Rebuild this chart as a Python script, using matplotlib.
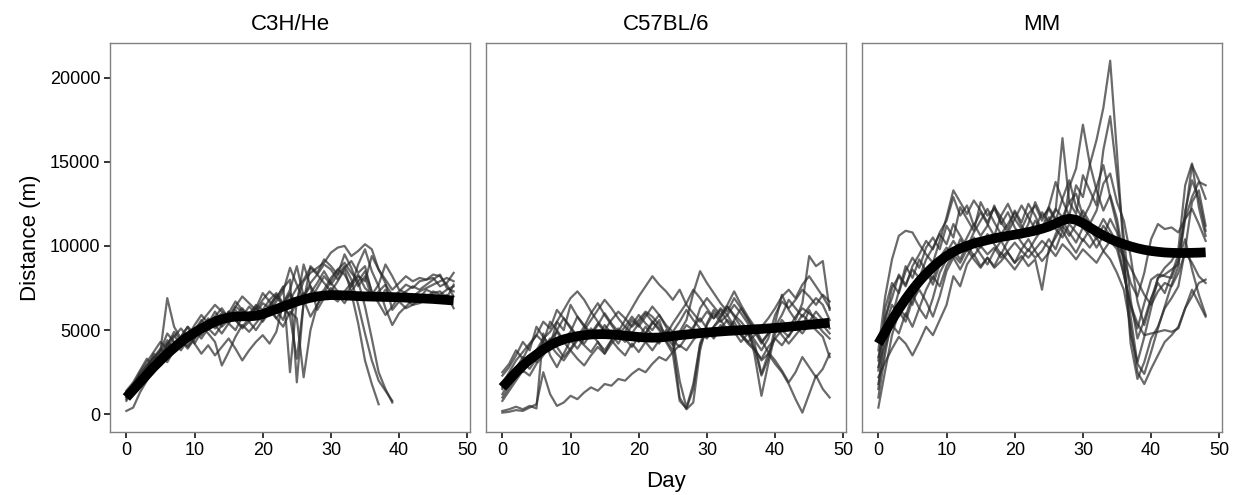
import matplotlib
matplotlib.use("Agg")
import matplotlib.pyplot as plt
import numpy as np

plt.rcParams["font.family"] = ["Liberation Sans", "DejaVu Sans"]

# ---------------------------------------------------------------------------
# Daily distance per mouse (m).
# Each list starts at day 0; shorter lists stop early.
# ---------------------------------------------------------------------------
STRAINS = ["C3H/He", "C57BL/6", "MM"]

c3h_mice = [
    [1200, 1800, 2400, 2900, 3300, 3800, 6900, 5200, 4500, 4100, 4800, 5300, 5000, 5600, 6000, 5400, 5900, 6300, 5800, 6500,
     6200, 6800, 7200, 6600, 7400, 8800, 7000, 7800, 8300, 8900, 8600, 8000, 8700, 9100, 8400, 8800, 7200, 6800, 7400, 6900,
     7300, 7700, 7500, 7900, 8000, 8100, 7600, 7800, 8400],
    [200, 400, 1300, 2000, 2700, 3100, 3500, 4300, 4000, 4600, 5100, 4700, 5400, 5800, 5200, 5600, 6400, 6100, 5500, 6000,
     6600, 6300, 6900, 7600, 2500, 6800, 7900, 8400, 8700, 9000, 9600, 9900, 10000, 9400, 9700, 10100, 9800, 8600, 8000, 7400,
     7800, 8200, 7900, 8100, 8000, 8300, 8200, 7700, 7000],
    [1100, 1500, 2100, 2700, 3600, 3200, 4100, 4900, 4400, 3900, 4500, 5200, 4800, 4300, 2900, 3700, 4600, 5300, 4900, 5400,
     5900, 6300, 5700, 5200, 6100, 5700, 2200, 5000, 6500, 7200, 7900, 8600, 8300, 7600, 8900, 9800, 8500, 7600, 6300, 5300,
     6000, 6400, 6800, 7000, 6900, 7300, 7100, 7400, 7600],
    [1400, 1900, 2600, 3300, 2800, 3700, 4400, 3800, 4600, 5200, 4800, 5500, 6000, 6500, 6100, 5800, 6400, 7000, 6600, 6200,
     6800, 7300, 6900, 7500, 8000, 1900, 6700, 8800, 8400, 9200, 8800, 8300, 9500, 8700, 7600, 8200, 6900, 7300, 7700, 7100,
     7000, 6800, 6500, 6600, 6800, 7000, 6900, 7100, 6300],
    [900, 1400, 2000, 2300, 3000, 3500, 3100, 3800, 4300, 4700, 4200, 4900, 5600, 5100, 5500, 6100, 5600, 5200, 5700, 6300,
     5900, 6400, 7100, 6500, 5800, 3300, 6600, 7200, 7800, 8500, 7800, 7300, 7000, 7600, 8200, 7900, 9400, 8600, 7800, 6200,
     6700, 6300, 6500, 6900, 7400, 7200, 7300, 6900, 7700],
    [1000, 1600, 2300, 2900, 3400, 3000, 4200, 4700, 4100, 4500, 5000, 5600, 5200, 5800, 6300, 5700, 6200, 5600, 6000, 6400,
     5800, 6500, 7000, 6400, 7100, 6600, 8900, 7600, 7000, 7400, 8100, 8600, 9000, 8400, 7900, 6400, 4500, 2500, 1500, 700],
    [1300, 1700, 2500, 3100, 3700, 4300, 3900, 4600, 5100, 4600, 5300, 5900, 5400, 6100, 5500, 6000, 6700, 6200, 5800, 6300,
     7200, 6700, 6200, 5600, 6800, 7500, 8000, 8700, 8300, 7800, 7300, 7900, 8600, 7200, 5400, 3200, 1800, 600],
    [800, 1400, 1900, 2600, 3200, 3800, 4800, 4300, 3800, 4400, 5000, 4500, 5100, 4700, 5300, 6100, 5600, 5100, 5500, 5000,
     5600, 6200, 5700, 6300, 5900, 6600, 7200, 6800, 7500, 8200, 7700, 8300, 8800, 8000, 6500, 4800, 3200, 2000, 1400, 800],
    [1200, 1600, 2200, 2800, 3400, 3900, 3500, 4000, 4600, 5200, 4200, 3600, 4100, 3500, 4000, 4500, 3900, 3200, 3800, 4300,
     4700, 4200, 4900, 6600, 7200, 6500, 7000, 7600, 6200, 6900, 7500, 7100, 6600, 7300, 7900, 8500, 7300, 6600, 5900, 6400,
     7000, 7300, 7600, 7400, 7700, 8000, 8300, 7500, 7300],
    [1000, 1500, 2100, 2400, 2900, 3500, 4200, 3700, 4300, 4000, 4500, 5100, 5700, 5300, 4800, 5400, 5000, 5800, 6400, 6000,
     5500, 6100, 6700, 7300, 8700, 7700, 6800, 5800, 6500, 7200, 7000, 6700, 7300, 7800, 8300, 7500, 7100, 7700, 8900, 8200,
     7400, 7200, 7000, 7300, 7500, 7700, 7900, 8100, 7900],
]

c57_mice = [
    [200, 300, 450, 300, 500, 350, 4800, 3500, 2800, 3600, 4400, 3900, 4500, 5100, 4600, 5300, 4800, 4200, 4900, 5600,
     5200, 5800, 6400, 5900, 5200, 4500, 2000, 400, 1800, 4200, 5300, 6000, 5500, 5900, 6500, 6000, 5400, 3500, 1100, 3000,
     4800, 5600, 5100, 5800, 6300, 6000, 5700, 5300, 4800],
    [100, 150, 250, 200, 400, 600, 2500, 1200, 500, 700, 1100, 900, 1300, 1600, 1400, 1800, 1700, 2100, 2000, 2400,
     2700, 2500, 3000, 3400, 3200, 3700, 4100, 3800, 4400, 4900, 4500, 5200, 5600, 5000, 5500, 4700, 4300, 3900, 3200, 3600,
     3000, 2500, 1800, 900, 100, 1200, 2300, 1500, 1000],
    [1800, 2500, 3200, 3700, 4200, 4700, 4300, 5500, 5000, 4400, 4900, 5800, 5200, 4700, 5300, 6000, 5400, 4900, 5600, 6300,
     7000, 7600, 8200, 7700, 7300, 6800, 7400, 6500, 6000, 5500, 6100, 5700, 6300, 5900, 5200, 4800, 4300, 4700, 5200, 5700,
     6300, 7000, 7400, 6900, 7700, 8200, 7600, 7000, 6300],
    [2300, 2800, 3500, 4300, 3800, 5200, 4600, 4100, 5500, 5000, 6500, 5800, 5300, 4800, 5400, 4900, 4500, 5100, 4600, 5300,
     5900, 5400, 5000, 5600, 4400, 3800, 4900, 5600, 7200, 8500, 7800, 7200, 6600, 6100, 6900, 6300, 5600, 4900, 4200, 4800,
     5400, 7100, 6200, 5600, 6600, 9400, 8800, 9100, 6200],
    [1500, 2100, 2700, 3400, 3000, 3700, 4300, 3800, 5000, 5700, 5200, 4600, 4200, 4800, 4300, 3600, 4400, 5000, 4500, 4000,
     4600, 5200, 4700, 4200, 5000, 4300, 1000, 300, 700, 3800, 5400, 6200, 5700, 6400, 5800, 5200, 4800, 4200, 2400, 3600,
     4500, 5000, 4600, 5300, 5900, 5500, 6100, 5600, 5100],
    [1000, 1600, 2200, 2900, 3500, 3100, 3900, 4500, 4000, 3400, 3900, 4500, 4100, 3700, 4300, 3800, 4400, 3900, 3500, 4200,
     3700, 4300, 3800, 4400, 4900, 4400, 4000, 4600, 5200, 5700, 5100, 4600, 5300, 4900, 5600, 6300, 5700, 5000, 4300, 4800,
     5300, 4700, 4200, 4700, 5200, 6200, 5400, 4900, 4500],
    [2500, 3000, 3800, 3300, 4100, 4700, 5500, 5100, 6200, 5700, 5100, 4600, 5200, 6000, 6600, 5900, 5300, 4700, 5200, 4800,
     4300, 4800, 5500, 5100, 4600, 4100, 4700, 5300, 5000, 6300, 6900, 6400, 5900, 6500, 7300, 6500, 5800, 5200, 4400, 3700,
     3200, 2600, 1900, 2500, 3400, 2800, 2200, 2700, 3600],
    [1200, 1900, 2500, 3100, 2700, 3300, 3900, 4400, 4900, 4300, 3800, 4400, 5000, 5600, 6200, 6800, 6300, 5700, 5200, 5800,
     5300, 4800, 5400, 5900, 5300, 4900, 5500, 6200, 5600, 5100, 4600, 5200, 5800, 6400, 5900, 5500, 5000, 4400, 3800, 4500,
     5900, 6700, 6300, 6800, 7400, 7000, 6500, 7100, 6700],
    [1600, 2200, 2800, 2500, 3200, 3800, 4500, 4900, 5500, 6200, 6900, 7300, 6800, 6100, 5500, 5000, 5600, 6100, 5700, 5200,
     5600, 6100, 5800, 5300, 4700, 5400, 6000, 6600, 7400, 6900, 6300, 5700, 6200, 5500, 4900, 4300, 4800, 3900, 2300, 3300,
     5200, 5900, 6800, 6300, 5800, 6400, 6900, 6500, 5600],
    [800, 1400, 2000, 2600, 2300, 3000, 3500, 4100, 3600, 3200, 3800, 3300, 2900, 3500, 4000, 3600, 4200, 4700, 4300, 4800,
     5400, 6000, 5500, 5000, 4300, 3600, 800, 350, 1500, 4100, 5000, 4500, 5100, 5600, 5200, 4700, 4200, 3800, 3300, 4000,
     4500, 4100, 4700, 5200, 4800, 5400, 5000, 4600, 3400],
]

mm_mice = [
    [1500, 5500, 7500, 8200, 7600, 8800, 9500, 10300, 9800, 10800, 11500, 12900, 11800, 12400, 11200, 12000, 11300, 10600, 11800, 12500,
     11600, 11000, 11900, 12400, 11500, 12300, 13800, 12700, 11800, 13600, 12900, 14800, 16300, 18200, 21000, 15500, 9500, 4200, 2100, 3100,
     4500, 5200, 6300, 6900, 7600, 9800, 12600, 13300, 11200],
    [2600, 6300, 7800, 7200, 8500, 9300, 8700, 9900, 10500, 9800, 11200, 10500, 12300, 11600, 10900, 12600, 11800, 12200, 11400, 10800,
     11600, 12400, 11700, 11000, 12000, 11400, 12100, 16400, 12600, 11900, 14200, 13300, 12400, 15700, 17700, 14200, 10500, 6800, 4500, 5600,
     6900, 7800, 7200, 8300, 9500, 11800, 14800, 13900, 12800],
    [3200, 5800, 6900, 8300, 7700, 8600, 8100, 9200, 9900, 10700, 10100, 11300, 10600, 9900, 10800, 11500, 12200, 11400, 10700, 11300,
     12000, 11200, 10600, 11500, 10900, 12300, 11600, 10900, 13500, 14600, 17200, 14900, 13300, 12100, 13000, 11600, 9200, 4700, 3100, 4600,
     6300, 8100, 8700, 9100, 9800, 13600, 14900, 12300, 10600],
    [3800, 7000, 9200, 10600, 10900, 10800, 10100, 9500, 9000, 10300, 11700, 13300, 12600, 11900, 12700, 12100, 11400, 12300, 11700, 11000,
     12100, 11400, 12500, 11800, 10900, 11500, 12200, 11700, 12600, 13100, 11800, 11300, 12100, 13700, 14300, 12600, 11500, 9400, 6700, 5300,
     6800, 8100, 8300, 8600, 8900, 11600, 12900, 13800, 13600],
    [2200, 3100, 3900, 4600, 4200, 3500, 4300, 5200, 4700, 5600, 6500, 8200, 7600, 8900, 9500, 8800, 9300, 8700, 9100, 9600,
     9000, 9400, 8800, 9200, 7400, 9800, 10500, 11200, 10600, 11300, 12100, 11400, 10800, 11600, 10900, 10200, 8300, 6400, 5100, 6600,
     8000, 8300, 8200, 8100, 9200, 10400, 8600, 7100, 5900],
    [400, 2600, 4700, 6100, 5500, 6800, 7400, 6700, 5800, 7000, 8500, 9300, 8600, 9400, 10100, 9500, 8900, 9700, 10300, 9600,
     9000, 9800, 10400, 9700, 9100, 9600, 10700, 11500, 10800, 10200, 11100, 10600, 9900, 10600, 11600, 10800, 9300, 7800, 7000, 8400,
     10400, 11300, 11000, 11100, 10800, 11600, 12200, 11300, 10300],
    [3400, 5200, 6500, 5900, 7200, 6500, 7800, 8600, 8000, 9300, 9900, 9300, 10400, 9700, 10500, 9900, 10700, 10100, 9500, 10300,
     10800, 10200, 9700, 10400, 11000, 11700, 11000, 10500, 11300, 10800, 10300, 11000, 10400, 11200, 10600, 10000, 9400, 8700, 7900, 7100,
     6500, 7300, 7800, 7600, 8400, 9600, 9000, 8200, 7800],
    [2800, 4300, 5500, 6300, 5800, 7100, 6300, 7400, 8200, 7600, 8800, 9500, 9000, 9800, 9200, 8700, 9300, 8800, 9600, 9100,
     8600, 9200, 9800, 9300, 9700, 10400, 9800, 10900, 10200, 9600, 10400, 9900, 10500, 9700, 9200, 8400, 7400, 5200, 2500, 1800,
     2700, 3500, 4300, 4700, 5200, 6300, 7000, 7800, 8000],
    [1800, 4000, 5300, 4800, 6000, 5200, 6300, 5700, 6900, 8400, 9200, 9800, 9200, 10100, 9400, 10000, 9500, 9900, 9300, 9700,
     10200, 9700, 9300, 9800, 10300, 9900, 9400, 10100, 9700, 9200, 9800, 9400, 9000, 9700, 10300, 9800, 8300, 6500, 5400, 4700,
     4800, 4900, 5000, 4900, 5100, 6300, 7400, 6600, 5800],
    [1000, 3600, 5800, 7300, 8800, 8100, 9200, 8500, 7700, 8900, 9600, 10300, 9700, 10500, 11300, 10600, 11200, 12400, 11300, 12000,
     11100, 10500, 11300, 12600, 11700, 12200, 11500, 12800, 13900, 12300, 11600, 12400, 13500, 14800, 12900, 11200, 8900, 5800, 3000, 2400,
     3700, 5100, 6400, 7700, 8800, 12100, 13900, 12800, 10900],
]

# smoothed strain means (days 0..48)
c3h_mean = [1000, 1450, 1900, 2350, 2800, 3200, 3600, 3950, 4300, 4600, 4850, 5100, 5300, 5500, 5650, 5750, 5800, 5820, 5820, 5850,
            5950, 6100, 6250, 6400, 6550, 6700, 6820, 6920, 7000, 7050, 7080, 7080, 7060, 7040, 7020, 7000, 6990, 6980, 6970, 6960,
            6950, 6930, 6910, 6890, 6870, 6850, 6820, 6790, 6760]
c57_mean = [1600, 2050, 2500, 2900, 3250, 3550, 3850, 4100, 4300, 4450, 4560, 4640, 4700, 4740, 4760, 4760, 4740, 4710, 4670, 4630,
            4590, 4560, 4550, 4560, 4600, 4650, 4700, 4740, 4780, 4820, 4860, 4890, 4920, 4950, 4970, 5000, 5020, 5050, 5070, 5100,
            5130, 5160, 5200, 5240, 5280, 5320, 5360, 5400, 5440]
mm_mean = [4200, 4900, 5600, 6250, 6850, 7400, 7900, 8350, 8750, 9100, 9400, 9650, 9850, 10000, 10150, 10250, 10350, 10450, 10530, 10600,
           10670, 10740, 10820, 10910, 11020, 11150, 11330, 11520, 11620, 11550, 11350, 11100, 10850, 10620, 10420, 10250, 10100, 9970, 9860, 9770,
           9700, 9650, 9610, 9590, 9580, 9580, 9590, 9600, 9620]

MICE = [c3h_mice, c57_mice, mm_mice]
MEANS = [c3h_mean, c57_mean, mm_mean]

X_TICKS = [0, 10, 20, 30, 40, 50]
Y_TICKS = [0, 5000, 10000, 15000, 20000]

W, H = 1239, 495
fig = plt.figure(figsize=(W / 100, H / 100), dpi=100)

# panel boxes in pixels: (left, right); shared top/bottom
PANELS = [(110, 470), (486, 846), (862, 1222)]
TOP, BOTTOM = 43, 432

for i, (left, right) in enumerate(PANELS):
    ax = fig.add_axes([left / W, 1 - BOTTOM / H, (right - left) / W, (BOTTOM - TOP) / H])

    for mouse in MICE[i]:
        ax.plot(np.arange(len(mouse)), mouse, color="#2b2b2b", alpha=0.7, lw=1.6,
                solid_joinstyle="round")
    mean = MEANS[i]
    ax.plot(np.arange(len(mean)), mean, color="black", lw=7, solid_capstyle="butt")

    ax.set_xlim(-2.4, 50.4)
    ax.set_ylim(-1050, 22050)
    ax.set_xticks(X_TICKS)
    ax.set_title(STRAINS[i], fontsize=16, pad=9)

    for s in ax.spines.values():
        s.set_color("#808080")
        s.set_linewidth(1.0)
    ax.tick_params(axis="both", direction="out", length=4, width=1.1,
                   color="black", labelsize=13, pad=3)

    if i == 0:
        ax.set_yticks(Y_TICKS)
        ax.set_ylabel("Distance (m)", fontsize=16, labelpad=6)
    else:
        ax.set_yticks([])

fig.text((486 + 846) / 2 / W, 1 - 482 / H, "Day", ha="center", va="center", fontsize=16)

fig.savefig("out.png", dpi=100)
